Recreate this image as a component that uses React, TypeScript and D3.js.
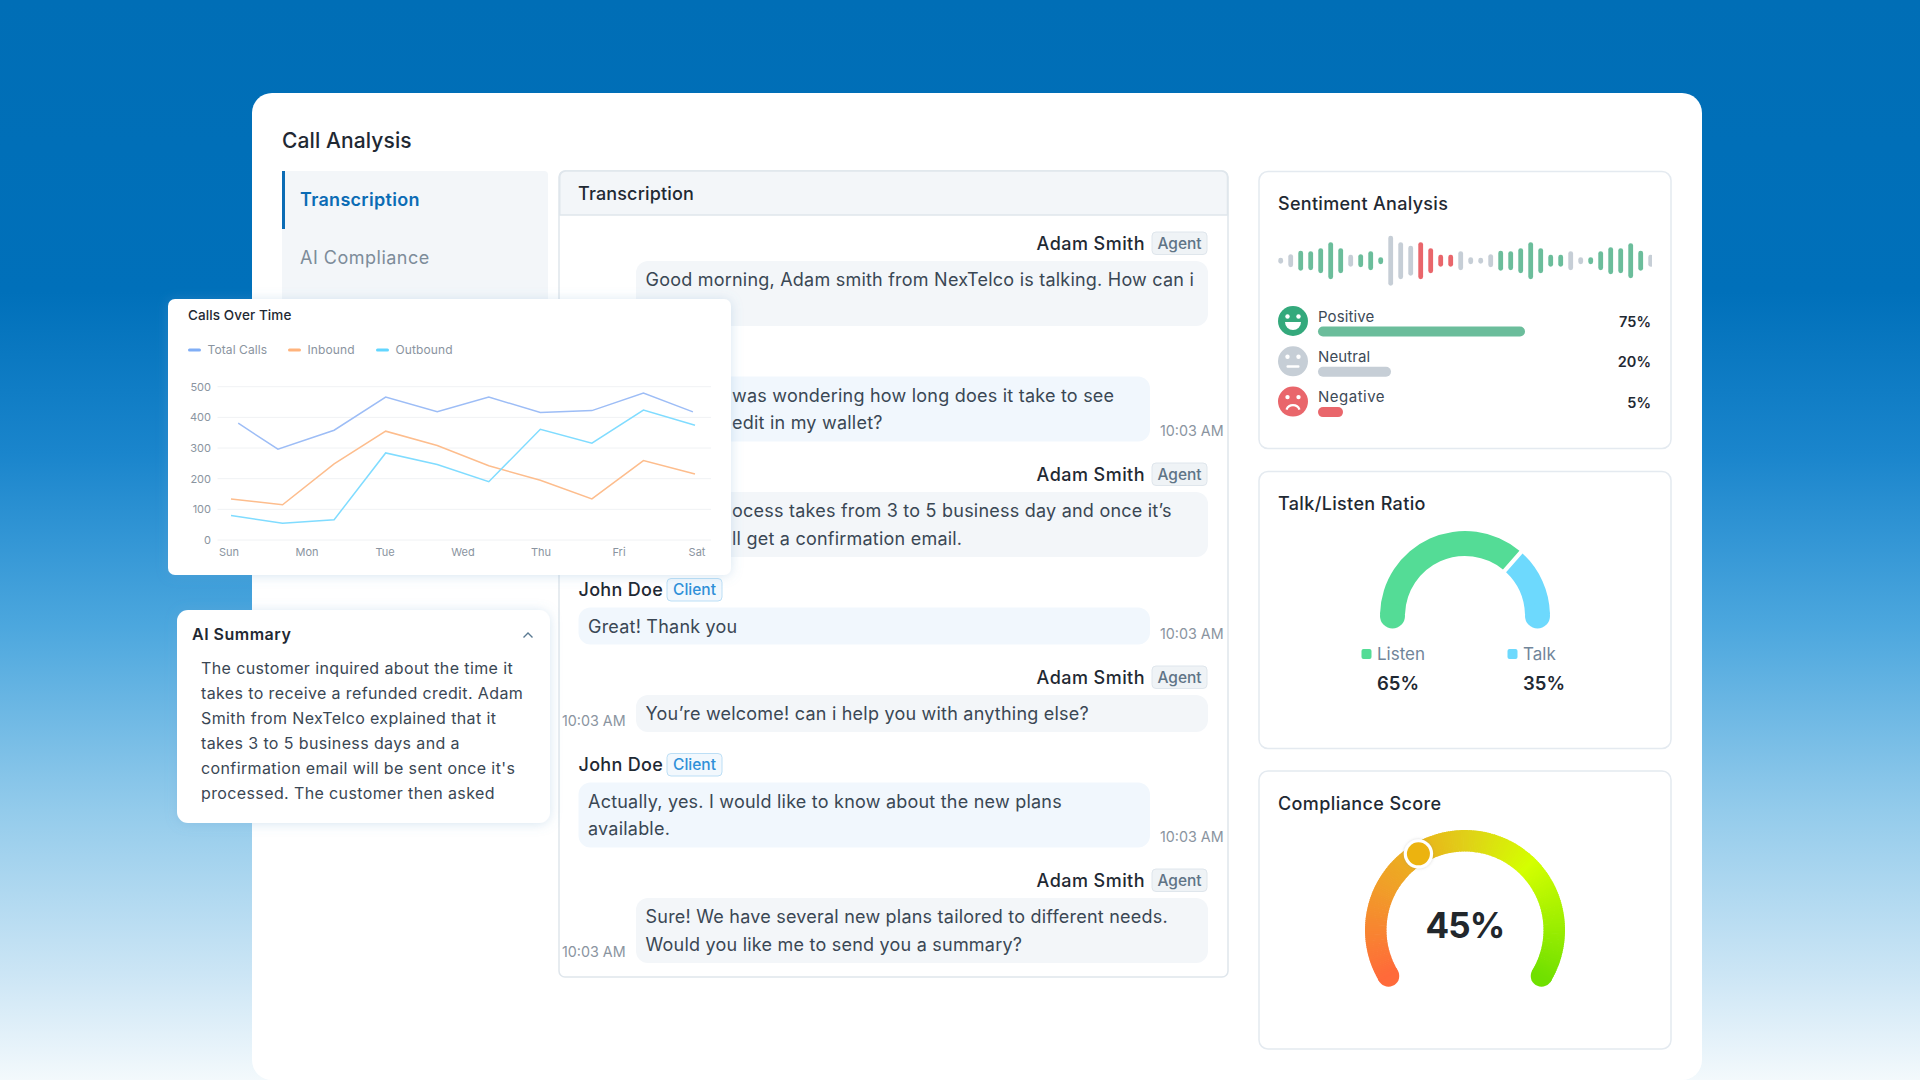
import * as d3 from "d3";

const FONT = "Inter, 'Noto Sans', sans-serif";

// Calls over time
const weekDays = ["Sun", "Mon", "Tue", "Wed", "Thu", "Fri", "Sat"];
const callTicks = [0, 100, 200, 300, 400, 500];
const slots = [0, 1, 2, 3, 4, 5, 6, 7, 8, 9];
const totalSlots = [0.14, 0.91, 2, 3, 4, 5, 6, 7, 8, 8.96];
const totalCalls = [381, 296, 358, 466, 418, 466, 416, 422, 479, 418];
const inboundCalls = [134, 115, 248, 355, 308, 242, 195, 134, 259, 215];
const outboundCalls = [80, 55, 66, 284, 246, 190, 361, 316, 424, 374];

// Sentiment
const waveHeights = [6, 13, 20, 19, 25, 37, 25, 12, 13, 19, 7, 50, 37, 30, 37, 25, 12, 12, 19, 7, 6, 13, 20, 19, 25, 37, 25, 12, 12, 19, 7, 7, 19, 27, 25, 35, 20, 12];
const waveMoods = "nnpppppnpp".split("").concat("p", "nnn".split(""), "rrrr".split(""), "nnnn".split(""), "ppppppp".split(""), "nn".split(""), "pppppp".split(""), "n");
const sentimentNames = ["Positive", "Neutral", "Negative"];
const sentimentValues = [75, 20, 5];

// Gauges
const talkListenNames = ["Listen", "Talk"];
const talkListenShown = [65, 35];
const talkListenArc = [73.5, 26.5];
const complianceScore = 45;
const complianceKnob = 37;

// Text
const menuItems = ["Transcription", "AI Compliance"];
const summaryLines = [
  "The customer inquired about the time it",
  "takes to receive a refunded credit. Adam",
  "Smith from NexTelco explained that it",
  "takes 3 to 5 business days and a",
  "confirmation email will be sent once it's",
  "processed. The customer then asked",
];
const messageRoles = ["agent", "client", "agent", "client", "agent", "client", "agent"];
const messageLines = [
  ["Good morning, Adam smith from NexTelco is talking. How can i", ""],
  ["was wondering how long does it take to see", "edit in my wallet?"],
  ["ocess takes from 3 to 5 business day and once it’s", "ll get a confirmation email."],
  ["Great! Thank you"],
  ["You’re welcome! can i help you with anything else?"],
  ["Actually, yes. I would like to know about the new plans", "available."],
  ["Sure! We have several new plans tailored to different needs.", "Would you like me to send you a summary?"],
];
const coveredMessages = [1, 2];

const colors = {
  total: "#9dbdf6",
  inbound: "#fdbd8d",
  outbound: "#80dcff",
  positive: "#6bbd9b",
  neutral: "#c6ced6",
  negative: "#e9666b",
  listen: "#54dc96",
  talk: "#6dd9fd",
  ink: "#1f2933",
  body: "#3a4754",
  muted: "#8a94a0",
};

function Label(props: any) {
  return <text fontFamily={FONT} {...props} />;
}

function CallsCard() {
  const y = d3.scaleLinear().domain([0, 500]).range([540, 386.7]);
  const dayX = d3.scalePoint<string>().domain(weekDays).range([229, 697]);
  const slotX = d3.scaleLinear().domain([0, 9]).range([231, 695]);
  const line = (xs: number[], vs: number[]) =>
    d3.line<number>().x((d) => slotX(d)).y((_, i) => y(vs[i]))(xs) ?? "";
  const legend = [
    { name: "Total Calls", color: "#80aef6", x: 188 },
    { name: "Inbound", color: "#ffb37c", x: 288 },
    { name: "Outbound", color: "#62d6ff", x: 376 },
  ];
  return (
    <g>
      <rect x={168} y={299} width={563} height={276} rx={7} fill="#fff" filter="url(#soft)" />
      <Label x={188} y={320} fontSize={13.5} fontWeight={500} letterSpacing={0.1} fill={colors.ink}>Calls Over Time</Label>
      {legend.map((d) => (
        <g key={d.name}>
          <rect x={d.x} y={348.5} width={13} height={3} rx={1.5} fill={d.color} />
          <Label x={d.x + 19.5} y={354} fontSize={12} letterSpacing={0.1} fill={colors.muted}>{d.name}</Label>
        </g>
      ))}
      {callTicks.map((t) => (
        <g key={t}>
          <line x1={217.5} x2={711} y1={y(t)} y2={y(t)} stroke="#f0f2f4" strokeWidth={1} />
          <Label x={211} y={y(t) + 4} fontSize={11} textAnchor="end" fill={colors.muted}>{t}</Label>
        </g>
      ))}
      {weekDays.map((d) => (
        <Label key={d} x={dayX(d)} y={555.5} fontSize={11} textAnchor="middle" fill={colors.muted}>{d}</Label>
      ))}
      <path d={line(totalSlots, totalCalls)} fill="none" stroke={colors.total} strokeWidth={1.5} />
      <path d={line(slots, inboundCalls)} fill="none" stroke={colors.inbound} strokeWidth={1.5} />
      <path d={line(slots, outboundCalls)} fill="none" stroke={colors.outbound} strokeWidth={1.5} />
    </g>
  );
}

function SummaryCard() {
  return (
    <g>
      <rect x={177} y={610} width={373} height={213} rx={11} fill="#fff" filter="url(#soft)" />
      <Label x={192} y={640} fontSize={16} fontWeight={600} letterSpacing={0.5} fill={colors.ink}>AI Summary</Label>
      <path d="M523.5 637.5 L528 633 L532.5 637.5" fill="none" stroke="#5a7a92" strokeWidth={1.4} />
      {summaryLines.map((l, i) => (
        <Label key={i} x={201} y={674 + i * 25} fontSize={16} letterSpacing={0.38} fill={colors.body}>{l}</Label>
      ))}
    </g>
  );
}

function Tag({ x, y, role }: { x: number; y: number; role: string }) {
  const agent = role === "agent";
  return (
    <g>
      <rect x={x} y={y} width={55} height={22.5} rx={4} fill={agent ? "#eff3f6" : "#f2f8fd"} stroke={agent ? "#dfe6ec" : "#bcdff6"} />
      <Label x={x + 27.5} y={y + 16.5} fontSize={15.5} fontWeight={500} textAnchor="middle" fill={agent ? "#5f7486" : "#2f90d8"}>
        {agent ? "Agent" : "Client"}
      </Label>
    </g>
  );
}

function TranscriptPanel() {
  let nameY = 249;
  const rows = messageRoles.map((role, i) => {
    const top = nameY + 12;
    const h = messageLines[i].length > 1 ? 65 : 37;
    const row = { role, i, nameY, top, h };
    nameY = top + h + 38.5;
    return row;
  });
  return (
    <g>
      <rect x={559} y={171} width={669} height={806} rx={6} fill="#fff" stroke="#dfe6ec" strokeWidth={1.5} />
      <path d="M559.75 215 V177 a6 6 0 0 1 6 -6 H1221.5 a6 6 0 0 1 6 6 V215 Z" fill="#f3f6f9" stroke="#dfe6ec" strokeWidth={1.5} />
      <Label x={578} y={200} fontSize={18} fontWeight={500} letterSpacing={0.15} fill={colors.ink}>Transcription</Label>
      {rows.map(({ role, i, nameY, top, h }) => {
        const agent = role === "agent";
        const bx = agent ? 636 : 578.5;
        const covered = coveredMessages.includes(i);
        return (
          <g key={i}>
            {agent ? (
              <>
                <Label x={1145} y={nameY + 0.5} fontSize={18} fontWeight={500} letterSpacing={0.45} textAnchor="end" fill={colors.ink}>Adam Smith</Label>
                <Tag x={1152} y={nameY - 17} role={role} />
              </>
            ) : !covered ? (
              <>
                <Label x={578.5} y={nameY + 0.5} fontSize={18} fontWeight={500} letterSpacing={0.3} fill={colors.ink}>John Doe</Label>
                <Tag x={667} y={nameY - 17} role={role} />
              </>
            ) : null}
            <rect x={bx} y={top} width={agent ? 572 : 571.5} height={h} rx={12} fill={agent ? "#f3f6f9" : "#f1f7fd"} />
            {messageLines[i].map((l, j) =>
              l ? (
                <Label key={j} x={covered ? 732 : bx + 9.5} y={top + 25 + j * 27.6} fontSize={18} letterSpacing={0.22} fill={colors.body}>{l}</Label>
              ) : null,
            )}
            {!(agent && covered) && (i > 0) && (
              <Label x={agent ? 562 : 1160} y={top + h - 6} fontSize={14.3} fill={colors.muted}>10:03 AM</Label>
            )}
          </g>
        );
      })}
    </g>
  );
}

function Face({ name, cx, cy, color }: { name: string; cx: number; cy: number; color: string }) {
  const mouth =
    name === "Positive"
      ? <path d={`M${cx - 8} ${cy + 1} H${cx + 8} A8 8 0 0 1 ${cx - 8} ${cy + 1} Z`} fill="#fff" />
      : name === "Neutral"
        ? <rect x={cx - 6.5} y={cy + 4} width={13} height={2.4} rx={1} fill="#fff" />
        : <path d={`M${cx - 6.5} ${cy + 8} A7 7 0 0 1 ${cx + 6.5} ${cy + 8}`} fill="none" stroke="#fff" strokeWidth={2.2} />;
  return (
    <g>
      <circle cx={cx} cy={cy} r={15} fill={color} />
      <circle cx={cx - 5.5} cy={cy - 4.5} r={2.2} fill="#fff" />
      <circle cx={cx + 5.5} cy={cy - 4.5} r={2.2} fill="#fff" />
      {mouth}
    </g>
  );
}

function SentimentCard() {
  const waveX = d3.scaleLinear().domain([0, waveHeights.length - 1]).range([1280.7, 1650.7]);
  const barW = d3.scaleLinear().domain([5, 20, 75]).range([25, 73, 207]);
  const moodColor: Record<string, string> = { p: colors.positive, n: colors.neutral, r: colors.negative };
  const rowColors = ["#34a97c", colors.neutral, colors.negative];
  const barColors = [colors.positive, colors.neutral, colors.negative];
  return (
    <g>
      <rect x={1259} y={171.5} width={412} height={277} rx={9} fill="#fff" stroke="#e4eaf0" strokeWidth={1.5} />
      <Label x={1278} y={210} fontSize={18} fontWeight={500} letterSpacing={0.3} fill={colors.ink}>Sentiment Analysis</Label>
      <g clipPath="url(#waveClip)">
        {waveHeights.map((h, i) => (
          <rect key={i} x={waveX(i) - 2.4} y={260.7 - h / 2} width={4.8} height={h} rx={2.4} fill={moodColor[waveMoods[i]]} />
        ))}
      </g>
      {sentimentNames.map((name, i) => {
        const cy = 321 + i * 40.3;
        return (
          <g key={name}>
            <Face name={name} cx={1293} cy={cy} color={rowColors[i]} />
            <Label x={1318} y={321 + i * 40 + 1} fontSize={15} letterSpacing={i === 2 ? 0.5 : 0.1} fill="#3d4a57">{name}</Label>
            <rect x={1318} y={cy + 5.5} width={barW(sentimentValues[i])} height={10} rx={5} fill={barColors[i]} />
            <Label x={1651} y={cy + 6} fontSize={14.5} fontWeight={600} textAnchor="end" fill={colors.ink}>{sentimentValues[i]}%</Label>
          </g>
        );
      })}
    </g>
  );
}

function TalkListenCard() {
  const cx = 1465;
  const cy = 616;
  const pie = d3.pie<number>().sort(null).startAngle(-Math.PI / 2).endAngle(Math.PI / 2).padAngle(0.04);
  const arc = d3.arc<d3.PieArcDatum<number>>().innerRadius(60).outerRadius(85);
  const fills = [colors.listen, colors.talk];
  const arcs = pie(talkListenArc);
  const ends = [-Math.PI / 2, Math.PI / 2];
  const itemX = [1377, 1523];
  return (
    <g>
      <rect x={1259} y={471.5} width={412} height={277} rx={9} fill="#fff" stroke="#e4eaf0" strokeWidth={1.5} />
      <Label x={1278} y={510} fontSize={18} fontWeight={500} letterSpacing={0.35} fill={colors.ink}>Talk/Listen Ratio</Label>
      {arcs.map((d, i) => {
        const [px, py] = d3.pointRadial(ends[i], 72.5);
        return (
          <g key={i} fill={fills[i]}>
            <path d={arc(d) ?? ""} transform={`translate(${cx},${cy})`} />
            <circle cx={cx + px} cy={cy + py} r={12.5} />
          </g>
        );
      })}
      {talkListenNames.map((name, i) => (
        <g key={name}>
          <rect x={itemX[i] - 15.5} y={649} width={10} height={10} rx={2} fill={fills[i]} />
          <Label x={itemX[i]} y={660} fontSize={17} fill="#71859a">{name}</Label>
          <Label x={itemX[i]} y={690} fontSize={18.5} fontWeight={600} fill={colors.ink}>{talkListenShown[i]}%</Label>
        </g>
      ))}
    </g>
  );
}

function ComplianceCard() {
  const cx = 1465;
  const cy = 930;
  const maxA = (121 * Math.PI) / 180;
  const angle = d3.scaleLinear().domain([0, 100]).range([-maxA, maxA]);
  const hue = d3
    .scaleLinear<string>()
    .domain([0, 25, 40, 50, 68, 100])
    .range(["#ff6a3a", "#f0a028", "#e8b81a", "#e0d018", "#d4ff00", "#70e000"])
    .interpolate(d3.interpolateRgb);
  const arc = d3.arc<number>()
    .innerRadius(78.5)
    .outerRadius(100)
    .startAngle((d) => angle(d))
    .endAngle((d) => angle(d + 0.7));
  const slices = d3.range(0, 100, 0.5);
  const capA = d3.pointRadial(angle(0), 89.25);
  const capB = d3.pointRadial(angle(100), 89.25);
  const knob = d3.pointRadial(angle(complianceKnob), 89.25);
  return (
    <g>
      <rect x={1259} y={771} width={412} height={278} rx={9} fill="#fff" stroke="#e4eaf0" strokeWidth={1.5} />
      <Label x={1278} y={810} fontSize={18} fontWeight={500} letterSpacing={0.4} fill={colors.ink}>Compliance Score</Label>
      <g transform={`translate(${cx},${cy})`}>
        <circle cx={capA[0]} cy={capA[1]} r={10.75} fill={hue(0)} />
        <circle cx={capB[0]} cy={capB[1]} r={10.75} fill={hue(100)} />
        {slices.map((s) => (
          <path key={s} d={arc(s) ?? ""} fill={hue(s)} />
        ))}
        <circle cx={knob[0]} cy={knob[1]} r={14.7} fill="#fff" filter="url(#knob)" />
        <circle cx={knob[0]} cy={knob[1]} r={11.5} fill="#ecb30f" />
      </g>
      <Label x={cx} y={938} fontSize={35} fontWeight={700} letterSpacing={-0.8} textAnchor="middle" fill="#22272c">{complianceScore}%</Label>
    </g>
  );
}

export default function App() {
  return (
    <svg width={1920} height={1080} viewBox="0 0 1920 1080" style={{ position: "absolute", left: 0, top: 0 }}>
      <defs>
        <linearGradient id="bg" x1="0" y1="0" x2="0" y2="1">
          <stop offset="0" stopColor="#006eb6" />
          <stop offset="0.27" stopColor="#0070ba" />
          <stop offset="0.42" stopColor="#1a85cc" />
          <stop offset="0.58" stopColor="#4ca7de" />
          <stop offset="0.75" stopColor="#93cbeb" />
          <stop offset="0.9" stopColor="#cbe5f5" />
          <stop offset="1" stopColor="#f3f9fc" />
        </linearGradient>
        <filter id="soft" x="-10%" y="-10%" width="120%" height="120%">
          <feDropShadow dx={0} dy={1} stdDeviation={6} floodColor="#6fa4cf" floodOpacity={0.28} />
        </filter>
        <filter id="knob" x="-30%" y="-30%" width="160%" height="160%">
          <feDropShadow dx={0} dy={0} stdDeviation={1.5} floodColor="#888" floodOpacity={0.35} />
        </filter>
        <clipPath id="waveClip">
          <rect x={1270} y={220} width={382} height={80} />
        </clipPath>
      </defs>
      <rect width={1920} height={1080} fill="url(#bg)" />
      <path d="M272 93 H1682 a20 20 0 0 1 20 20 V1060 a20 20 0 0 1 -20 20 H272 a20 20 0 0 1 -20 -20 V113 a20 20 0 0 1 20 -20 Z" fill="#fff" />
      <Label x={282} y={147.5} fontSize={21} fontWeight={500} letterSpacing={0.1} fill={colors.ink}>Call Analysis</Label>

      <rect x={282} y={171} width={266} height={180} rx={4} fill="#f3f6f9" />
      <rect x={282} y={171} width={3} height={58} fill="#0b6cb5" />
      <Label x={300} y={206} fontSize={18} fontWeight={600} letterSpacing={0.3} fill="#0b6cb5">{menuItems[0]}</Label>
      <Label x={300} y={264} fontSize={18} letterSpacing={0.5} fill="#7d8c9a">{menuItems[1]}</Label>

      <TranscriptPanel />
      <SentimentCard />
      <TalkListenCard />
      <ComplianceCard />
      <CallsCard />
      <SummaryCard />
    </svg>
  );
}
